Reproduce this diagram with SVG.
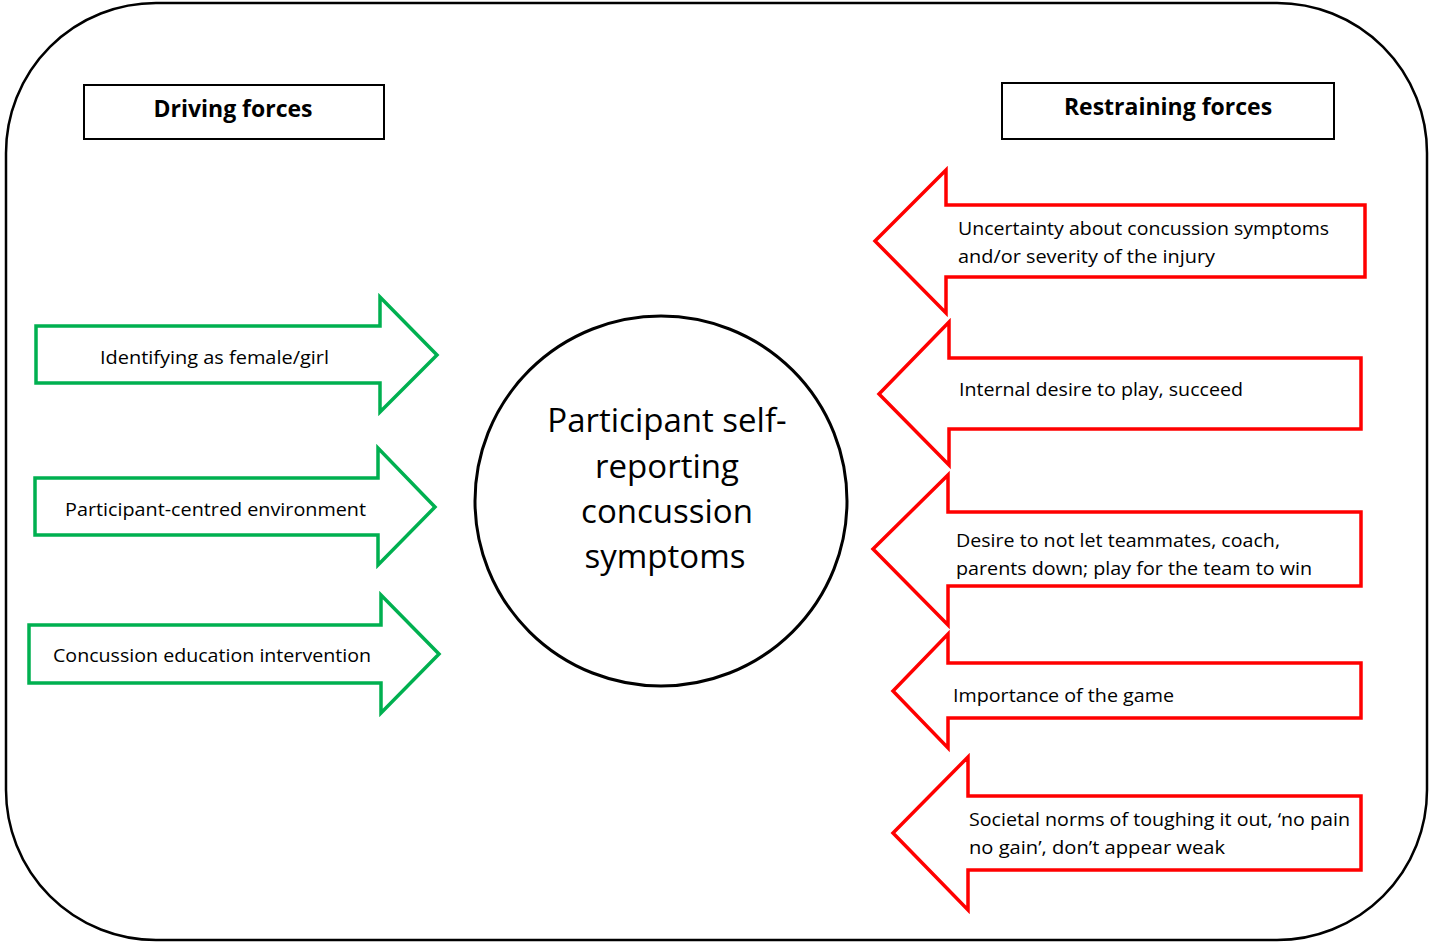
<svg xmlns="http://www.w3.org/2000/svg" width="1432" height="943" viewBox="0 0 1432 943">
<style>
.frame{fill:#fff;stroke:#000;stroke-width:2.5}
.hdr{fill:#fff;stroke:#000;stroke-width:2}
.hdrt{font-family:"Open Sans","Liberation Sans",sans-serif;font-weight:bold;font-size:23px;fill:#000;text-anchor:middle}
.g{fill:#fff;stroke:#00B050;stroke-width:3.5}
.r{fill:#fff;stroke:#FF0000;stroke-width:3.5}
.t{font-family:"Open Sans","Liberation Sans",sans-serif;font-size:18px;fill:#000}
.ct{font-family:"Open Sans","Liberation Sans",sans-serif;font-size:33px;fill:#000;text-anchor:middle}
.circ{fill:#fff;stroke:#000;stroke-width:3}
</style>
<rect x="0" y="0" width="1432" height="943" fill="#fff"/>
<rect class="frame" x="6" y="3" width="1421" height="937" rx="150" ry="150"/>
<g id="driving-header">
<rect class="hdr" x="84" y="85" width="300" height="54"/>
<text class="hdrt" x="233" y="117">Driving forces</text>
</g>
<g id="restraining-header">
<rect class="hdr" x="1002" y="83" width="332" height="56"/>
<text class="hdrt" x="1168" y="115">Restraining forces</text>
</g>
<g id="center">
<ellipse class="circ" cx="661" cy="501" rx="186" ry="185"/>
<text class="ct" x="667" y="432">Participant self-</text>
<text class="ct" x="667" y="478">reporting</text>
<text class="ct" x="667" y="523">concussion</text>
<text class="ct" x="665" y="568">symptoms</text>
</g>
<g id="d1">
<polygon class="g" points="36,326 380,326 380,297 437,355 380,412 380,383 36,383"/>
<text class="t" x="100" y="364" textLength="229" lengthAdjust="spacingAndGlyphs">Identifying as female/girl</text>
</g>
<g id="d2">
<polygon class="g" points="35,478 378,478 378,448 435,507 378,565 378,535 35,535"/>
<text class="t" x="65" y="516" textLength="301" lengthAdjust="spacingAndGlyphs">Participant-centred environment</text>
</g>
<g id="d3">
<polygon class="g" points="29,625 381,625 381,595 439,654 381,713 381,683 29,683"/>
<text class="t" x="53" y="662" textLength="318" lengthAdjust="spacingAndGlyphs">Concussion education intervention</text>
</g>
<g id="r1">
<polygon class="r" points="1365,205 946,205 946,170 875,241 946,313 946,277 1365,277"/>
<text class="t" x="958" y="235" textLength="371" lengthAdjust="spacingAndGlyphs">Uncertainty about concussion symptoms</text>
<text class="t" x="958" y="263" textLength="257" lengthAdjust="spacingAndGlyphs">and/or severity of the injury</text>
</g>
<g id="r2">
<polygon class="r" points="1361,358 949,358 949,322 879,394 949,465 949,429 1361,429"/>
<text class="t" x="959" y="396" textLength="284" lengthAdjust="spacingAndGlyphs">Internal desire to play, succeed</text>
</g>
<g id="r3">
<polygon class="r" points="1361,512 948,512 948,475 873,549 948,625 948,586 1361,586"/>
<text class="t" x="956" y="547" textLength="324" lengthAdjust="spacingAndGlyphs">Desire to not let teammates, coach,</text>
<text class="t" x="956" y="575" textLength="356" lengthAdjust="spacingAndGlyphs">parents down; play for the team to win</text>
</g>
<g id="r4">
<polygon class="r" points="1361,663 948,663 948,634 893,691 948,748 948,718 1361,718"/>
<text class="t" x="953" y="702" textLength="221" lengthAdjust="spacingAndGlyphs">Importance of the game</text>
</g>
<g id="r5">
<polygon class="r" points="1361,796 968,796 968,757 893,833 968,910 968,870 1361,870"/>
<text class="t" x="969" y="826" textLength="381" lengthAdjust="spacingAndGlyphs">Societal norms of toughing it out, ‘no pain</text>
<text class="t" x="969" y="854" textLength="256" lengthAdjust="spacingAndGlyphs">no gain’, don’t appear weak</text>
</g>
<g id="connectors"></g>
</svg>
